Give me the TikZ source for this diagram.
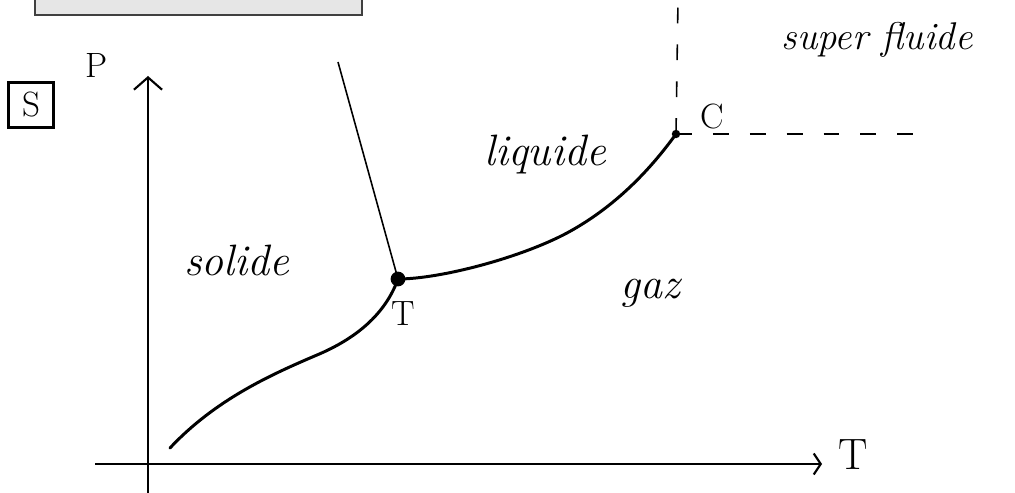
\documentclass[tikz,border=0pt]{standalone}
\usepackage{tikz}
\usetikzlibrary{arrows.meta, positioning}
\definecolor{boxgray}{HTML}{E6E6E6}
\definecolor{boxedge}{HTML}{404040}
\tikzset{
  axisline/.style={line width=1.2pt, -{Straight Barb[length=7pt, width=16pt, line width=1.2pt]}},
  phasecurve/.style={line width=1.7pt, line cap=round},
  fusionline/.style={line width=0.9pt},
  dashline/.style={line width=0.9pt, dash pattern=on 9pt off 12pt},
  phaselabel/.style={font=\itshape\fontsize{25}{28}\selectfont},
  pointlabel/.style={font=\fontsize{20}{24}\selectfont}
}

\begin{document}
\begin{tikzpicture}[x=0.02cm, y=-0.02cm]
\useasboundingbox (0,0) rectangle (1015,493);
% header box, cut by the top edge
\draw[boxedge, line width=1.5pt, fill=boxgray] (35,-10) rectangle (362,15);
% axes
\coordinate (origin) at (148,464);
\coordinate (ptop) at (148,76);
\coordinate (pbot) at (148,493);
\coordinate (tleft) at (95,464);
\coordinate (tright) at (822,464);
\draw[line width=1.2pt] (pbot) -- (origin);
\draw[axisline] (origin) -- (ptop);
\draw[axisline, -{Straight Barb[length=4pt, width=12pt, line width=1.2pt]}] (tleft) -- (tright);
\node[pointlabel] (plabel) at (97,66) {P};
\node[pointlabel, font=\fontsize{25}{28}\selectfont] (tlabel) at (853,455) {T};
\node[pointlabel, draw, line width=1.3pt, minimum size=0.9cm, inner sep=1pt] (figno) at (31,105) {S};
% triple and critical points
\coordinate (T) at (398,279);
\coordinate (C) at (676,134);
\coordinate (sublow) at (170,448);
\coordinate (fustop) at (338,62);
\coordinate (dashtop) at (678,0);
\coordinate (dashright) at (915,134);
% sublimation curve
\draw[phasecurve] (sublow) .. controls (215,400) and (270,375) .. (317,355)
  .. controls (355,339) and (385,315) .. (T);
% vaporization curve
\draw[phasecurve] (T) .. controls (440,279) and (520,258) .. (567,233)
  .. controls (615,207) and (650,170) .. (C);
% fusion line
\draw[fusionline] (T) -- (fustop);
% supercritical limits
\draw[dashline] (C) -- (dashtop);
\draw[dashline] (C) -- (dashright);
\fill (T) circle (4.2pt);
\fill (C) circle (2.4pt);
\node[pointlabel] (tname) at (403,314) {T};
\node[pointlabel] (cname) at (712,117) {C};
% phase names
\node[phaselabel] (solid) at (237,260) {solide};
\node[phaselabel] (liquid) at (545,155) {liquide};
\node[phaselabel] (gas) at (650,293) {gaz};
\node[phaselabel, font=\itshape\fontsize{22}{26}\selectfont] (super) at (877,40) {super fluide};
\end{tikzpicture}
\end{document}
